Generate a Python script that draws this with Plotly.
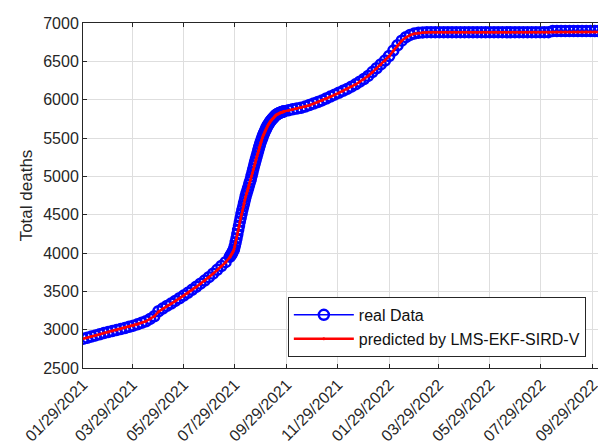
import pandas as pd
import plotly.graph_objects as go

# Real data in three stretches:
#  A: every 5 days from 2021-01-29, B: daily through the steep rise, C: every 5 days to the end
real_a = [
    2880, 2895, 2910, 2925, 2940, 2955, 2968, 2982, 2995, 3008,
    3022, 3038, 3052, 3070, 3090, 3110, 3140, 3175, 3240, 3275,
    3310, 3340, 3375, 3410, 3445, 3480, 3520, 3560, 3600, 3640,
    3685, 3730, 3780, 3830, 3880, 3950,
]
real_b = [
    3965, 3985, 4005, 4025, 4050, 4090, 4140, 4190, 4245, 4300,
    4355, 4410, 4460, 4510, 4560, 4605, 4650, 4695, 4740, 4780,
    4815, 4850, 4890, 4925, 4960, 5005, 5050, 5095, 5140, 5180,
    5220, 5260, 5300, 5340, 5380, 5415, 5450, 5480, 5510, 5540,
    5565, 5590, 5615, 5640, 5660, 5678, 5695, 5712, 5727, 5740,
    5752, 5764, 5776, 5788, 5800, 5807, 5813, 5819, 5825, 5830,
    5834, 5838, 5842, 5846, 5850,
]
real_c = [
    5862, 5875, 5885, 5895, 5910, 5930, 5950, 5970, 5990, 6015,
    6040, 6065, 6090, 6115, 6140, 6170, 6200, 6235, 6270, 6310,
    6360, 6410, 6460, 6510, 6570, 6640, 6710, 6770, 6815, 6845,
    6862, 6872, 6877, 6880, 6880, 6880, 6880, 6880, 6880, 6880,
    6880, 6880, 6880, 6880, 6880, 6880, 6880, 6880, 6880, 6880,
    6880, 6880, 6880, 6880, 6880, 6880, 6880, 6880, 6880, 6880,
    6880, 6880, 6880, 6895, 6895, 6895, 6895, 6895, 6895, 6895,
    6895, 6895, 6895, 6895, 6895, 6895,
]

pred_a = [
    2880, 2895, 2910, 2925, 2940, 2955, 2968, 2982, 2995, 3008,
    3022, 3038, 3052, 3070, 3090, 3110, 3140, 3175, 3235, 3272,
    3308, 3338, 3373, 3408, 3443, 3478, 3518, 3558, 3598, 3638,
    3683, 3728, 3778, 3828, 3878, 3945,
]
pred_b = [
    3960, 3980, 4000, 4020, 4045, 4085, 4135, 4185, 4240, 4295,
    4350, 4405, 4455, 4505, 4555, 4600, 4645, 4690, 4735, 4775,
    4810, 4845, 4885, 4920, 4955, 5000, 5045, 5090, 5135, 5175,
    5215, 5255, 5295, 5335, 5375, 5410, 5445, 5475, 5505, 5535,
    5560, 5585, 5610, 5635, 5655, 5675, 5692, 5709, 5724, 5737,
    5750, 5762, 5774, 5786, 5798, 5805, 5811, 5817, 5823, 5828,
    5832, 5836, 5840, 5844, 5848,
]
pred_c = [
    5860, 5873, 5884, 5894, 5908, 5928, 5948, 5968, 5988, 6013,
    6038, 6063, 6088, 6113, 6138, 6168, 6198, 6233, 6268, 6308,
    6357, 6407, 6457, 6507, 6567, 6637, 6707, 6767, 6812, 6843,
    6860, 6870, 6876, 6880, 6880, 6880, 6880, 6880, 6880, 6880,
    6880, 6880, 6880, 6880, 6880, 6880, 6880, 6880, 6880, 6880,
    6880, 6880, 6880, 6880, 6880, 6880, 6880, 6880, 6880, 6880,
    6880, 6880, 6880, 6882, 6882, 6882, 6882, 6882, 6882, 6882,
    6882, 6882, 6882, 6882, 6882, 6882,
]

dates_a = pd.date_range("2021-01-29", periods=len(real_a), freq="5D")
dates_b = pd.date_range("2021-07-24", periods=len(real_b), freq="1D")
dates_c = pd.date_range("2021-10-01", periods=len(real_c), freq="5D")
dates = list(dates_a) + list(dates_b) + list(dates_c)
real_deaths = real_a + real_b + real_c
predicted_deaths = pred_a + pred_b + pred_c

tick_dates = ["2021-01-29", "2021-03-29", "2021-05-29", "2021-07-29", "2021-09-29",
              "2021-11-29", "2022-01-29", "2022-03-29", "2022-05-29", "2022-07-29",
              "2022-09-29"]
tick_labels = ["01/29/2021", "03/29/2021", "05/29/2021", "07/29/2021", "09/29/2021",
               "11/29/2021", "01/29/2022", "03/29/2022", "05/29/2022", "07/29/2022",
               "09/29/2022"]
y_ticks = [2500, 3000, 3500, 4000, 4500, 5000, 5500, 6000, 6500, 7000]

FONT = "Liberation Sans, Arial, sans-serif"
AX = "#262626"
GRID = "#dedede"

fig = go.Figure()
fig.add_trace(go.Scatter(
    x=dates, y=real_deaths, mode="lines+markers", name="real Data",
    line=dict(color="#0000ff", width=1.5),
    marker=dict(symbol="circle-open", size=10, color="#0000ff", line=dict(width=2.5, color="#0000ff")),
))
fig.add_trace(go.Scatter(
    x=dates, y=predicted_deaths, mode="lines+markers", name="predicted by LMS-EKF-SIRD-V",
    line=dict(color="#ff0000", width=2.5),
    marker=dict(symbol="circle", size=3, color="#ff0000"),
))

# page body has an 8px default margin, so the figure is sized/offset to compensate
fig.update_layout(
    width=598, height=436,
    margin=dict(l=75, r=3, t=15, b=76),
    paper_bgcolor="white", plot_bgcolor="white",
    font=dict(family=FONT, color=AX, size=15),
    showlegend=True,
    legend=dict(
        x=0.967, y=0.032, xanchor="right", yanchor="bottom",
        bgcolor="white", bordercolor="#262626", borderwidth=1,
        font=dict(family=FONT, size=16, color="#111111"),
        tracegroupgap=0, itemwidth=60,
    ),
)
fig.update_xaxes(
    type="date", automargin=False,
    range=["2021-01-29", "2022-10-11"],
    tickvals=tick_dates, ticktext=tick_labels, tickangle=-45,
    tickfont=dict(family=FONT, size=16, color=AX),
    showgrid=True, gridcolor=GRID, gridwidth=1,
    showline=True, linecolor=AX, linewidth=1, mirror="ticks",
    ticks="inside", ticklen=4, tickcolor=AX,
    zeroline=False,
)
fig.update_yaxes(
    automargin=False,
    range=[2500, 7000], tickvals=y_ticks,
    tickfont=dict(family=FONT, size=16, color=AX),
    title=dict(text="Total deaths", font=dict(family=FONT, size=17, color=AX), standoff=6),
    showgrid=True, gridcolor=GRID, gridwidth=1,
    showline=True, linecolor=AX, linewidth=1, mirror="ticks",
    ticks="inside", ticklen=4, tickcolor=AX,
    zeroline=False,
)

fig.write_html("out.html")
